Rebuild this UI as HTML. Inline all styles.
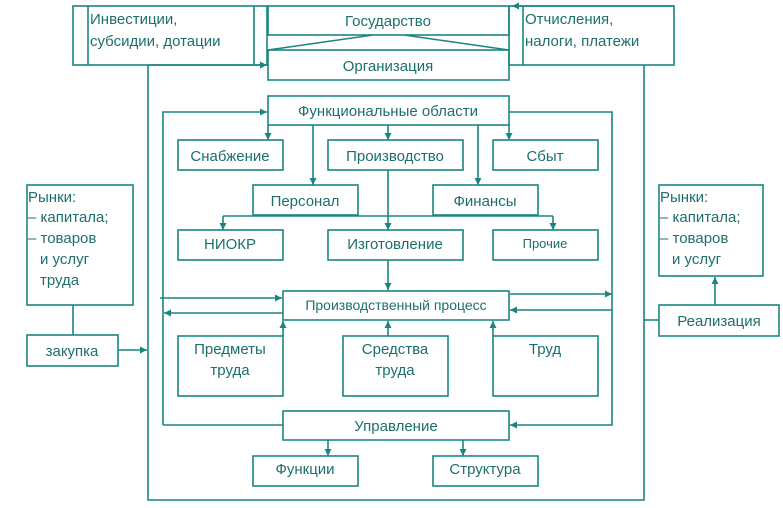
<!DOCTYPE html>
<html><head><meta charset="utf-8"><style>
html,body{margin:0;padding:0;background:#fff;}
svg{display:block;}
text{font-family:"Liberation Sans",sans-serif;font-size:15px;fill:#1d6f6c;}
</style></head><body>
<svg width="783" height="508" viewBox="0 0 783 508" xmlns="http://www.w3.org/2000/svg">
<defs>
<marker id="a" viewBox="0 0 10 10" refX="10" refY="5" markerWidth="7" markerHeight="7" orient="auto" markerUnits="userSpaceOnUse">
<path d="M0,0 L10,5 L0,10 z" fill="#1a8581"/></marker>
</defs>
<g stroke="#1a8581" stroke-width="1.6" fill="none">
<rect x="73" y="6" width="194" height="59"/>
<line x1="88" y1="6" x2="88" y2="65"/>
<line x1="254" y1="6" x2="254" y2="65"/>
<rect x="509" y="6" width="165" height="59"/>
<line x1="523" y1="6" x2="523" y2="65"/>
<line x1="674" y1="6" x2="512" y2="6" marker-end="url(#a)"/>
<rect x="268" y="6" width="241" height="29"/>
<rect x="268" y="50" width="241" height="30"/>
<line x1="268" y1="50" x2="373" y2="35"/>
<line x1="404" y1="35" x2="509" y2="50"/>
<line x1="148" y1="65" x2="267" y2="65" marker-end="url(#a)"/>
<polyline points="148,65 148,500 644,500 644,65"/>
<rect x="268" y="96" width="241" height="29"/>
<polyline points="163,425 163,112 267,112" marker-end="url(#a)"/>
<polyline points="509,112 612,112 612,425 510,425" marker-end="url(#a)"/>
<line x1="268" y1="125" x2="268" y2="140" marker-end="url(#a)"/>
<line x1="388" y1="125" x2="388" y2="140" marker-end="url(#a)"/>
<line x1="509" y1="125" x2="509" y2="140" marker-end="url(#a)"/>
<line x1="313" y1="125" x2="313" y2="185" marker-end="url(#a)"/>
<line x1="478" y1="125" x2="478" y2="185" marker-end="url(#a)"/>
<rect x="178" y="140" width="105" height="30"/>
<rect x="328" y="140" width="135" height="30"/>
<rect x="493" y="140" width="105" height="30"/>
<rect x="253" y="185" width="105" height="30"/>
<rect x="433" y="185" width="105" height="30"/>
<line x1="223" y1="216" x2="553" y2="216"/>
<line x1="223" y1="216" x2="223" y2="230" marker-end="url(#a)"/>
<line x1="553" y1="216" x2="553" y2="230" marker-end="url(#a)"/>
<line x1="388" y1="170" x2="388" y2="230" marker-end="url(#a)"/>
<rect x="178" y="230" width="105" height="30"/>
<rect x="328" y="230" width="135" height="30"/>
<rect x="493" y="230" width="105" height="30"/>
<line x1="388" y1="260" x2="388" y2="290" marker-end="url(#a)"/>
<rect x="283" y="291" width="226" height="29"/>
<line x1="160" y1="298" x2="282" y2="298" marker-end="url(#a)"/>
<line x1="283" y1="313" x2="164" y2="313" marker-end="url(#a)"/>
<line x1="510" y1="294" x2="612" y2="294" marker-end="url(#a)"/>
<line x1="612" y1="310" x2="510" y2="310" marker-end="url(#a)"/>
<rect x="178" y="336" width="105" height="60"/>
<rect x="343" y="336" width="105" height="60"/>
<rect x="493" y="336" width="105" height="60"/>
<line x1="283" y1="336" x2="283" y2="321" marker-end="url(#a)"/>
<line x1="388" y1="336" x2="388" y2="321" marker-end="url(#a)"/>
<line x1="493" y1="336" x2="493" y2="321" marker-end="url(#a)"/>
<rect x="283" y="411" width="226" height="29"/>
<line x1="163" y1="425" x2="283" y2="425"/>
<line x1="328" y1="440" x2="328" y2="456" marker-end="url(#a)"/>
<line x1="463" y1="440" x2="463" y2="456" marker-end="url(#a)"/>
<rect x="253" y="456" width="105" height="30"/>
<rect x="433" y="456" width="105" height="30"/>
<rect x="27" y="185" width="106" height="120"/>
<line x1="73" y1="305" x2="73" y2="335"/>
<rect x="27" y="335" width="91" height="31"/>
<line x1="118" y1="350" x2="147" y2="350" marker-end="url(#a)"/>
<rect x="659" y="185" width="104" height="91"/>
<rect x="659" y="305" width="120" height="31"/>
<line x1="644" y1="320" x2="659" y2="320"/>
<line x1="715" y1="305" x2="715" y2="277" marker-end="url(#a)"/>
</g>
<g text-anchor="middle">
<text x="388" y="26">Государство</text>
<text x="388" y="71">Организация</text>
<text x="388" y="116">Функциональные области</text>
<text x="230" y="161">Снабжение</text>
<text x="395" y="161">Производство</text>
<text x="545" y="161">Сбыт</text>
<text x="305" y="206">Персонал</text>
<text x="485" y="206">Финансы</text>
<text x="230" y="249">НИОКР</text>
<text x="395" y="249">Изготовление</text>
<text x="545" y="248" style="font-size:13px">Прочие</text>
<text x="396" y="310" style="font-size:14px">Производственный процесс</text>
<text x="230" y="354">Предметы</text>
<text x="230" y="375">труда</text>
<text x="395" y="354">Средства</text>
<text x="395" y="375">труда</text>
<text x="545" y="354">Труд</text>
<text x="396" y="431">Управление</text>
<text x="305" y="474">Функции</text>
<text x="485" y="474">Структура</text>
<text x="72" y="356">закупка</text>
<text x="719" y="326">Реализация</text>
</g>
<text x="90" y="24">Инвестиции,</text>
<text x="90" y="46">субсидии, дотации</text>
<text x="525" y="24">Отчисления,</text>
<text x="525" y="46">налоги, платежи</text>
<text x="28" y="202">Рынки:</text>
<text x="28" y="222">– капитала;</text>
<text x="28" y="243">– товаров</text>
<text x="40" y="264">и услуг</text>
<text x="40" y="285">труда</text>
<text x="660" y="202">Рынки:</text>
<text x="660" y="222">– капитала;</text>
<text x="660" y="243">– товаров</text>
<text x="672" y="264">и услуг</text>
</svg>
</body></html>
